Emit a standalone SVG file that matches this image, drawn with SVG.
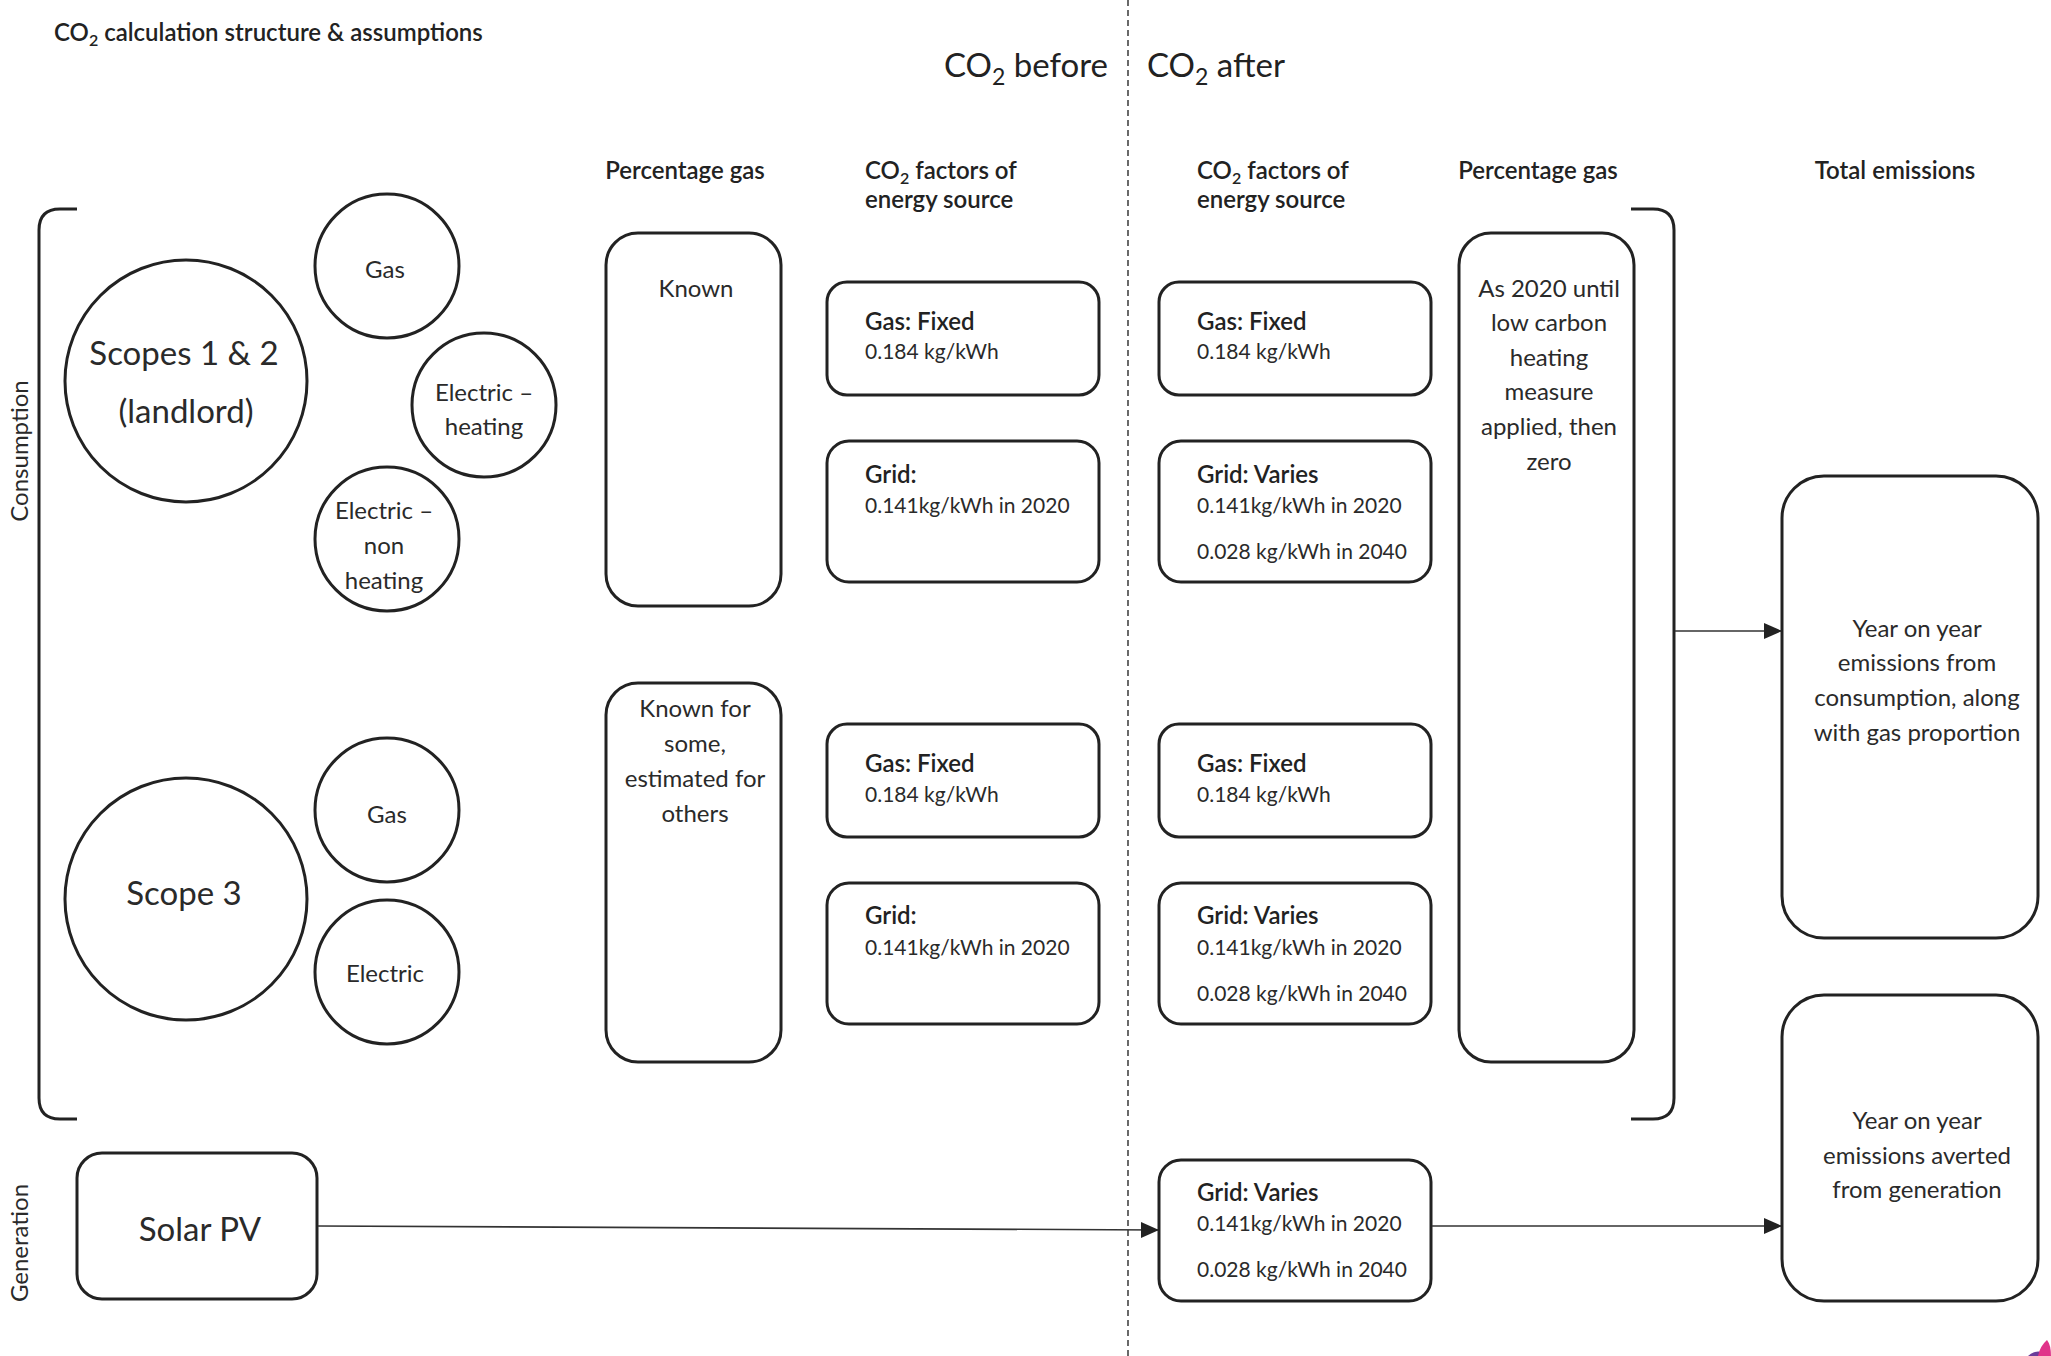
<svg xmlns="http://www.w3.org/2000/svg" width="2051" height="1356" viewBox="0 0 2051 1356">
  <style>
    text { font-family: Lato, "Open Sans", "Liberation Sans", sans-serif; fill: #222; }
    .shape { fill: #fff; stroke: #222; stroke-width: 3; }
    .bracket { fill: none; stroke: #222; stroke-width: 3; }
    .divider { fill: none; stroke: #444; stroke-width: 1.6; stroke-dasharray: 6 4; }
    .link { fill: none; stroke: #333; stroke-width: 1.6; }
    .light { font-size: 24px; font-weight: 400; fill: #2a2a2a; }
    .value { font-size: 21px; font-weight: 400; fill: #2a2a2a; }
    .mid { text-anchor: middle; }
    .head { font-size: 24px; font-weight: 600; }
    .strong { font-size: 24px; font-weight: 600; }
    .big { font-size: 33px; font-weight: 400; fill: #2a2a2a; }
    .side { font-size: 24px; font-weight: 400; fill: #2a2a2a; }
  </style>
  <defs>
    <marker id="arrow" markerUnits="userSpaceOnUse" markerWidth="18" markerHeight="18" viewBox="0 0 18 18" refX="17" refY="9" orient="auto">
      <path d="M0 1 L18 9 L0 17 Z" fill="#222"/>
    </marker>
  </defs>

  <rect width="2051" height="1356" fill="#fff"/>

  <!-- headings -->
  <g id="headings">
    <text x="54" y="41" class="head">CO<tspan font-size="16" dy="5">2</tspan><tspan dy="-5"> calculation structure &amp; assumptions</tspan></text>
    <text x="1108" y="77" style="font-size:33px;text-anchor:end">CO<tspan font-size="23" dy="8">2</tspan><tspan dy="-8"> before</tspan></text>
    <text x="1147" y="77" style="font-size:33px">CO<tspan font-size="23" dy="8">2</tspan><tspan dy="-8"> after</tspan></text>
    <text x="685" y="179" class="head mid">Percentage gas</text>
    <text class="head"><tspan x="865" y="179">CO<tspan font-size="16" dy="5">2</tspan><tspan dy="-5"> factors of</tspan></tspan><tspan x="865" y="208">energy source</tspan></text>
    <text class="head"><tspan x="1197" y="179">CO<tspan font-size="16" dy="5">2</tspan><tspan dy="-5"> factors of</tspan></tspan><tspan x="1197" y="208">energy source</tspan></text>
    <text x="1538" y="179" class="head mid">Percentage gas</text>
    <text x="1895" y="179" class="head mid">Total emissions</text>
    <text class="side mid" transform="translate(28 451) rotate(-90)">Consumption</text>
    <text class="side mid" transform="translate(28 1243) rotate(-90)">Generation</text>
  </g>

  <!-- before / after divider -->
  <line class="divider" x1="1128" y1="0" x2="1128" y2="1356"/>

  <!-- consumption brackets -->
  <g id="brackets">
    <path class="bracket" d="M77 209 H60 Q39 209 39 230 V1098 Q39 1119 60 1119 H77"/>
    <path class="bracket" d="M1631 209 H1653 Q1674 209 1674 230 V1098 Q1674 1119 1653 1119 H1631"/>
  </g>

  <!-- scopes 1 & 2 -->
  <g id="scopes12">
    <circle class="shape" cx="186" cy="381" r="121"/>
    <text class="big mid"><tspan x="184" y="365">Scopes 1 &amp; 2</tspan><tspan x="186" y="423">(landlord)</tspan></text>
  </g>
  <g id="s12-gas">
    <circle class="shape" cx="387" cy="266" r="72"/>
    <text x="385" y="278" class="light mid">Gas</text>
  </g>
  <g id="s12-elec-heat">
    <circle class="shape" cx="484" cy="405" r="72"/>
    <text class="light mid"><tspan x="484" y="401">Electric –</tspan><tspan x="484" y="435">heating</tspan></text>
  </g>
  <g id="s12-elec-nonheat">
    <circle class="shape" cx="387" cy="539" r="72"/>
    <text class="light mid"><tspan x="384" y="519">Electric –</tspan><tspan x="384" y="554">non</tspan><tspan x="384" y="589">heating</tspan></text>
  </g>

  <!-- scope 3 -->
  <g id="scope3">
    <circle class="shape" cx="186" cy="899" r="121"/>
    <text x="184" y="905" class="big mid">Scope 3</text>
  </g>
  <g id="s3-gas">
    <circle class="shape" cx="387" cy="810" r="72"/>
    <text x="387" y="823" class="light mid">Gas</text>
  </g>
  <g id="s3-elec">
    <circle class="shape" cx="387" cy="972" r="72"/>
    <text x="385" y="982" class="light mid">Electric</text>
  </g>

  <!-- percentage gas, before -->
  <g id="pct-before-1">
    <rect class="shape" x="606" y="233" width="175" height="373" rx="32"/>
    <text x="696" y="297" class="light mid">Known</text>
  </g>
  <g id="pct-before-2">
    <rect class="shape" x="606" y="683" width="175" height="379" rx="32"/>
    <text class="light mid"><tspan x="695" y="717">Known for</tspan><tspan x="695" y="752">some,</tspan><tspan x="695" y="787">estimated for</tspan><tspan x="695" y="822">others</tspan></text>
  </g>

  <!-- CO2 factors, before -->
  <g id="fac-before-gas-1">
    <rect class="shape" x="827" y="282" width="272" height="113" rx="20"/>
    <text class="strong" x="865" y="330">Gas: Fixed</text>
    <text class="value" x="865" y="359">0.184 kg/kWh</text>
  </g>
  <g id="fac-before-grid-1">
    <rect class="shape" x="827" y="441" width="272" height="141" rx="22"/>
    <text class="strong" x="865" y="483">Grid:</text>
    <text class="value" x="865" y="513">0.141kg/kWh in 2020</text>
  </g>
  <g id="fac-before-gas-2">
    <rect class="shape" x="827" y="724" width="272" height="113" rx="20"/>
    <text class="strong" x="865" y="772">Gas: Fixed</text>
    <text class="value" x="865" y="802">0.184 kg/kWh</text>
  </g>
  <g id="fac-before-grid-2">
    <rect class="shape" x="827" y="883" width="272" height="141" rx="22"/>
    <text class="strong" x="865" y="924">Grid:</text>
    <text class="value" x="865" y="955">0.141kg/kWh in 2020</text>
  </g>

  <!-- CO2 factors, after -->
  <g id="fac-after-gas-1">
    <rect class="shape" x="1159" y="282" width="272" height="113" rx="20"/>
    <text class="strong" x="1197" y="330">Gas: Fixed</text>
    <text class="value" x="1197" y="359">0.184 kg/kWh</text>
  </g>
  <g id="fac-after-grid-1">
    <rect class="shape" x="1159" y="441" width="272" height="141" rx="22"/>
    <text class="strong" x="1197" y="483">Grid: Varies</text>
    <text class="value" x="1197" y="513">0.141kg/kWh in 2020</text>
    <text class="value" x="1197" y="559">0.028 kg/kWh in 2040</text>
  </g>
  <g id="fac-after-gas-2">
    <rect class="shape" x="1159" y="724" width="272" height="113" rx="20"/>
    <text class="strong" x="1197" y="772">Gas: Fixed</text>
    <text class="value" x="1197" y="802">0.184 kg/kWh</text>
  </g>
  <g id="fac-after-grid-2">
    <rect class="shape" x="1159" y="883" width="272" height="141" rx="22"/>
    <text class="strong" x="1197" y="924">Grid: Varies</text>
    <text class="value" x="1197" y="955">0.141kg/kWh in 2020</text>
    <text class="value" x="1197" y="1001">0.028 kg/kWh in 2040</text>
  </g>

  <!-- percentage gas, after -->
  <g id="pct-after">
    <rect class="shape" x="1459" y="233" width="175" height="829" rx="32"/>
    <text class="light mid"><tspan x="1549" y="297">As 2020 until</tspan><tspan x="1549" y="331">low carbon</tspan><tspan x="1549" y="366">heating</tspan><tspan x="1549" y="400">measure</tspan><tspan x="1549" y="435">applied, then</tspan><tspan x="1549" y="470">zero</tspan></text>
  </g>

  <!-- totals -->
  <g id="total-consumption">
    <rect class="shape" x="1782" y="476" width="256" height="462" rx="42"/>
    <text class="light mid"><tspan x="1917" y="637">Year on year</tspan><tspan x="1917" y="671">emissions from</tspan><tspan x="1917" y="706">consumption, along</tspan><tspan x="1917" y="741">with gas proportion</tspan></text>
  </g>
  <g id="total-generation">
    <rect class="shape" x="1782" y="995" width="256" height="306" rx="42"/>
    <text class="light mid"><tspan x="1917" y="1129">Year on year</tspan><tspan x="1917" y="1164">emissions averted</tspan><tspan x="1917" y="1198">from generation</tspan></text>
  </g>

  <!-- generation -->
  <g id="solar-pv">
    <rect class="shape" x="77" y="1153" width="240" height="146" rx="25"/>
    <text x="200" y="1241" class="big mid">Solar PV</text>
  </g>
  <g id="fac-after-grid-gen">
    <rect class="shape" x="1159" y="1160" width="272" height="141" rx="22"/>
    <text class="strong" x="1197" y="1201">Grid: Varies</text>
    <text class="value" x="1197" y="1231">0.141kg/kWh in 2020</text>
    <text class="value" x="1197" y="1277">0.028 kg/kWh in 2040</text>
  </g>

  <!-- connectors -->
  <g id="connectors">
    <line class="link" x1="1675" y1="631" x2="1781" y2="631" marker-end="url(#arrow)"/>
    <line class="link" x1="318" y1="1226" x2="1158" y2="1230" marker-end="url(#arrow)"/>
    <line class="link" x1="1432" y1="1226" x2="1781" y2="1226" marker-end="url(#arrow)"/>
  </g>

  <!-- corner mark -->
  <g id="corner-mark">
    <path d="M2028 1356 Q2034 1350 2042 1352 L2044 1356 Z" fill="#6a3d9a"/>
    <path d="M2038 1356 Q2040 1346 2047 1340 Q2051 1345 2051 1356 Z" fill="#e0338a"/>
  </g>
</svg>
